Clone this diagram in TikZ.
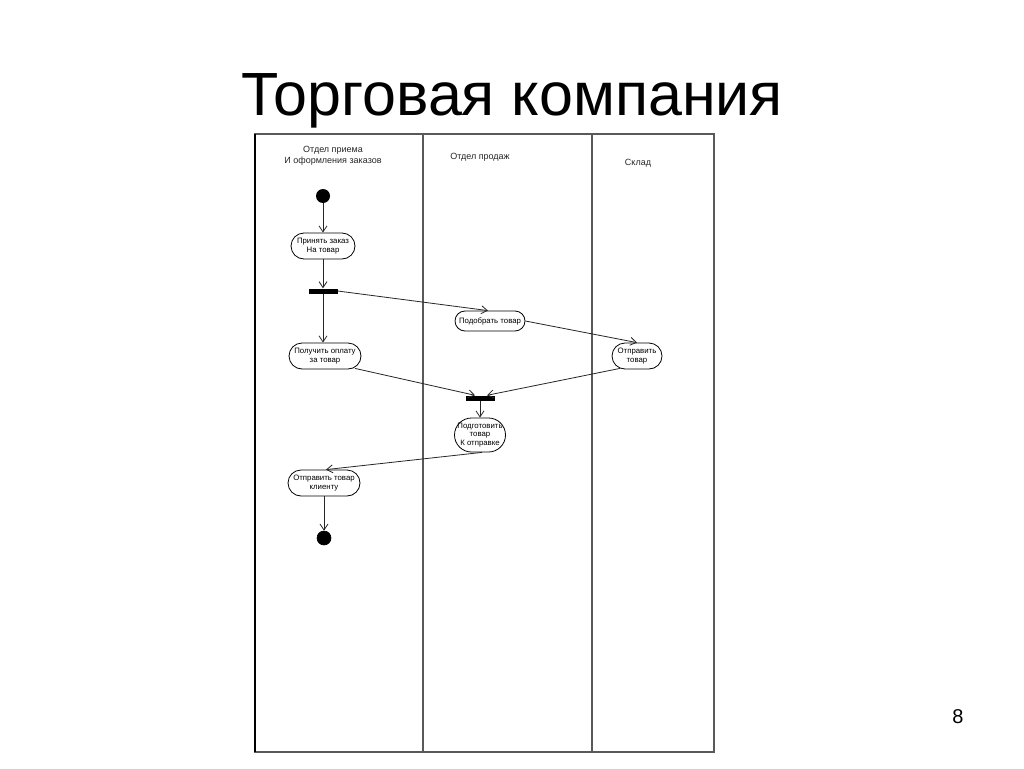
\documentclass[tikz,border=0pt]{standalone}
\usepackage{fontspec}
\setmainfont{Liberation Sans}
\usetikzlibrary{arrows.meta,calc}
\begin{document}
\begin{tikzpicture}[x=1pt,y=-1pt,
  flow/.style={draw=black!85,line width=0.8pt,-{Straight Barb[length=6pt,width=8pt,line width=0.8pt]}},
  act/.style={draw=black,line width=0.8pt,rounded corners=12pt,align=center,inner sep=0.5pt,font=\fontsize{7.8}{8.8}\selectfont},
  bar/.style={fill=black,draw=none,minimum width=29pt,minimum height=5pt,inner sep=0pt},
  dot/.style={circle,fill=black,minimum size=14pt,inner sep=0pt},
  lane/.style={font=\fontsize{9}{11}\selectfont,align=center,text=black!85},
  frame/.style={draw=black!65,line width=1.2pt}
]
\useasboundingbox (0,0) rectangle (1024,768);
\fill[white] (0,0) rectangle (1024,768);
% title
\node (title) at (512,101) {\fontsize{61}{64}\selectfont Торговая компания};
\node (pnum) at (958,717) {\fontsize{20}{22}\selectfont 8};
% swimlanes
\draw[frame] (255,134) rectangle (714,752);
\draw[frame] (423,134) -- (423,752);
\draw[frame] (592,134) -- (592,752);
\draw[draw=black,line width=1.4pt] (255,134) -- (255,752);
\node[lane] (l1) at (333,156) {Отдел приема\\И оформления заказов};
\node[lane] (l2) at (480,157) {Отдел продаж};
\node[lane] (l3) at (638,163) {Склад};
% nodes
\node[dot] (start) at (323,196) {};
\node[act,minimum width=64pt,minimum height=26pt,rounded corners=13pt] (a1) at (323,246) {Принять заказ\\На товар};
\node[bar] (fork) at (323,291) {};
\node[act,minimum width=70pt,minimum height=20pt,rounded corners=10pt] (pod) at (490,321) {Подобрать товар};
\node[act,minimum width=72pt,minimum height=26pt,rounded corners=13pt] (a2) at (325,356) {Получить оплату\\за товар};
\node[act,minimum width=50pt,minimum height=26pt,rounded corners=13pt] (otp) at (637,356) {Отправить\\товар};
\node[bar] (join) at (480,398) {};
\node[act,minimum width=51pt,minimum height=34pt,rounded corners=17pt] (prep) at (480,435) {Подготовить\\товар\\К отправке};
\node[act,minimum width=72pt,minimum height=26pt,rounded corners=13pt] (a3) at (324,483) {Отправить товар\\клиенту};
\node[dot,draw=black,line width=0.6pt] (end) at (324,538) {};
% edges
\draw[flow] (start) -- (a1.north);
\draw[flow] (a1.south) -- (fork.north);
\draw[flow] (fork.south) -- (fork.south |- a2.north);
\draw[flow] (fork.east) -- ($(pod.north)+(-2,0)$);
\draw[flow] (pod.east) -- (otp.north);
\draw[flow] ($(a2.south)+(30,-1)$) -- ($(join.north)+(-5,0)$);
\draw[flow] ($(otp.south)+(-17,-1)$) -- ($(join.north)+(7,0)$);
\draw[flow] (join.south) -- (prep.north);
\draw[flow] ($(prep.south)+(2,0)$) -- ($(a3.north)+(2,0)$);
\draw[flow] (a3.south) -- (end.north);
\end{tikzpicture}
\end{document}
